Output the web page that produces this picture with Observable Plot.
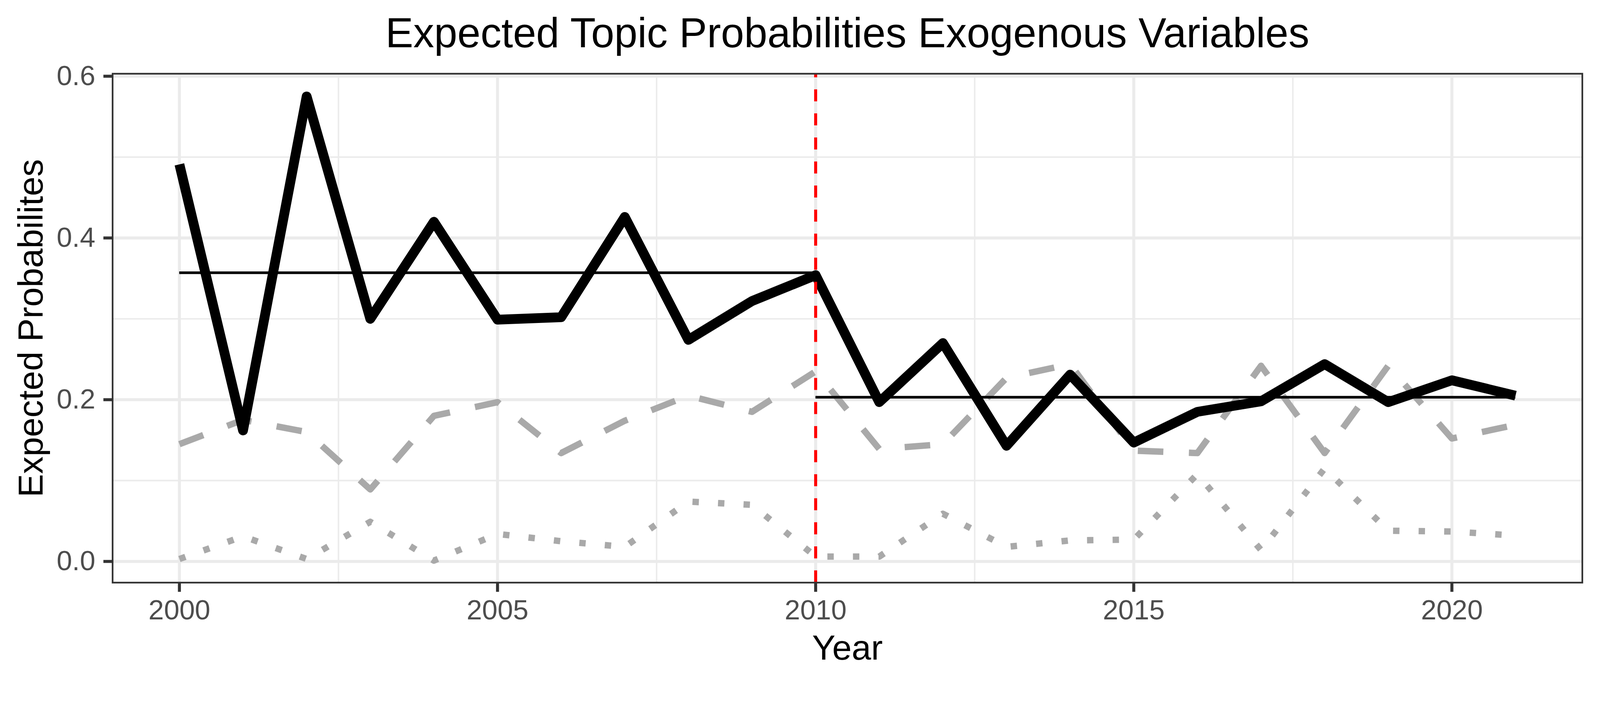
<!DOCTYPE html>
<html>
<head>
<meta charset="utf-8">
<script src="https://cdn.jsdelivr.net/npm/d3@7"></script>
<script src="https://cdn.jsdelivr.net/npm/@observablehq/plot@0.6"></script>
<style>
html, body { margin: 0; padding: 0; background: #ffffff; overflow: hidden; }
#title svg, #chart svg { display: block; width: 100%; height: auto; }
</style>
</head>
<body>
<div id="title">
  <svg viewBox="0 0 4256 150" xmlns="http://www.w3.org/2000/svg">
    <text x="2254" y="126" text-anchor="middle" font-family="'Liberation Sans', Arial, sans-serif"
          font-size="111" fill="#000000">Expected Topic Probabilities Exogenous Variables</text>
  </svg>
</div>
<div id="chart"></div>
<script>
// ---- data ----
const years = [2000, 2001, 2002, 2003, 2004, 2005, 2006, 2007, 2008, 2009, 2010,
               2011, 2012, 2013, 2014, 2015, 2016, 2017, 2018, 2019, 2020, 2021];
const topicSolid  = [0.491, 0.162, 0.575, 0.300, 0.420, 0.299, 0.302, 0.426, 0.274, 0.322, 0.354,
                     0.197, 0.270, 0.143, 0.231, 0.147, 0.185, 0.198, 0.244, 0.197, 0.224, 0.205];
const topicDashed = [0.145, 0.175, 0.160, 0.089, 0.180, 0.197, 0.134, 0.174, 0.205, 0.185, 0.235,
                     0.139, 0.145, 0.227, 0.244, 0.137, 0.134, 0.242, 0.134, 0.242, 0.152, 0.169];
const topicDotted = [0.003, 0.031, 0.003, 0.049, 0.001, 0.034, 0.025, 0.018, 0.074, 0.070, 0.006,
                     0.006, 0.059, 0.018, 0.026, 0.027, 0.108, 0.014, 0.115, 0.038, 0.037, 0.032];
const periodStart = [2000, 2010];
const periodEnd   = [2010, 2021];
const periodMean  = [0.357, 0.203];
const breakYear   = [2010];
const xTicks      = [2000, 2005, 2010, 2015, 2020];
const xMinorTicks = [2002.5, 2007.5, 2012.5, 2017.5];
const yTicks      = [0, 0.2, 0.4, 0.6];
const yMinorTicks = [0.1, 0.3, 0.5];
const xDomain     = [1998.95, 2022.05];
const yDomain     = [-0.0262, 0.6031];

// ---- tables built from the arrays ----
const solidRows  = years.map((yr, i) => ({year: yr, value: topicSolid[i]}));
const dashedRows = years.map((yr, i) => ({year: yr, value: topicDashed[i]}));
const dottedRows = years.map((yr, i) => ({year: yr, value: topicDotted[i]}));
const periods = periodMean.map((m, i) => ({start: periodStart[i], end: periodEnd[i], mean: m}));

const gray = "#A9A9A9";
const chart = Plot.plot({
  width: 4256,
  height: 1668,
  marginTop: 46,
  marginBottom: 268,
  marginLeft: 299,
  marginRight: 47.5,
  style: {fontFamily: "'Liberation Sans', Arial, sans-serif", background: "#ffffff"},
  x: {domain: xDomain},
  y: {domain: yDomain},
  marks: [
    Plot.gridX(xMinorTicks, {stroke: "#EBEBEB", strokeOpacity: 1, strokeWidth: 4}),
    Plot.gridY(yMinorTicks, {stroke: "#EBEBEB", strokeOpacity: 1, strokeWidth: 4}),
    Plot.gridX(xTicks, {stroke: "#EBEBEB", strokeOpacity: 1, strokeWidth: 8}),
    Plot.gridY(yTicks, {stroke: "#EBEBEB", strokeOpacity: 1, strokeWidth: 8}),
    Plot.line(dottedRows, {x: "year", y: "value", stroke: gray, strokeWidth: 17,
      strokeDasharray: "17,51", strokeLinecap: "butt", strokeLinejoin: "round"}),
    Plot.line(dashedRows, {x: "year", y: "value", stroke: gray, strokeWidth: 17,
      strokeDasharray: "68,68", strokeLinecap: "butt", strokeLinejoin: "round"}),
    Plot.line(solidRows, {x: "year", y: "value", stroke: "#000000", strokeWidth: 26,
      strokeLinecap: "butt", strokeLinejoin: "round"}),
    Plot.ruleY(periods, {y: "mean", x1: "start", x2: "end", stroke: "#000000", strokeWidth: 7}),
    Plot.ruleX(breakYear, {x: d => d, stroke: "#FF0000", strokeWidth: 8,
      strokeDasharray: "32,32", strokeDashoffset: 22, strokeLinecap: "butt"}),
    Plot.frame({stroke: "#333333", strokeWidth: 4.5}),
    Plot.axisX(xTicks, {tickSize: 25, tickPadding: 20.5, fontSize: 74, fill: "#4D4D4D",
      stroke: "#333333", strokeWidth: 8, tickFormat: d => String(d), label: null}),
    Plot.axisY(yTicks, {tickSize: 24, tickPadding: 22, fontSize: 74, fill: "#4D4D4D",
      stroke: "#333333", strokeWidth: 8, tickFormat: d3.format(".1f"), label: null}),
    Plot.text(["Year"], {text: d => d, frameAnchor: "bottom", dy: 175, fontSize: 93,
      lineAnchor: "middle", textAnchor: "middle", fill: "#000000"}),
    Plot.text(["Expected Probabilites"], {text: d => d, frameAnchor: "left", dx: -216, rotate: -90,
      fontSize: 93, lineAnchor: "middle", textAnchor: "middle", fill: "#000000"})
  ]
});
document.getElementById("chart").appendChild(chart);
</script>
</body>
</html>
